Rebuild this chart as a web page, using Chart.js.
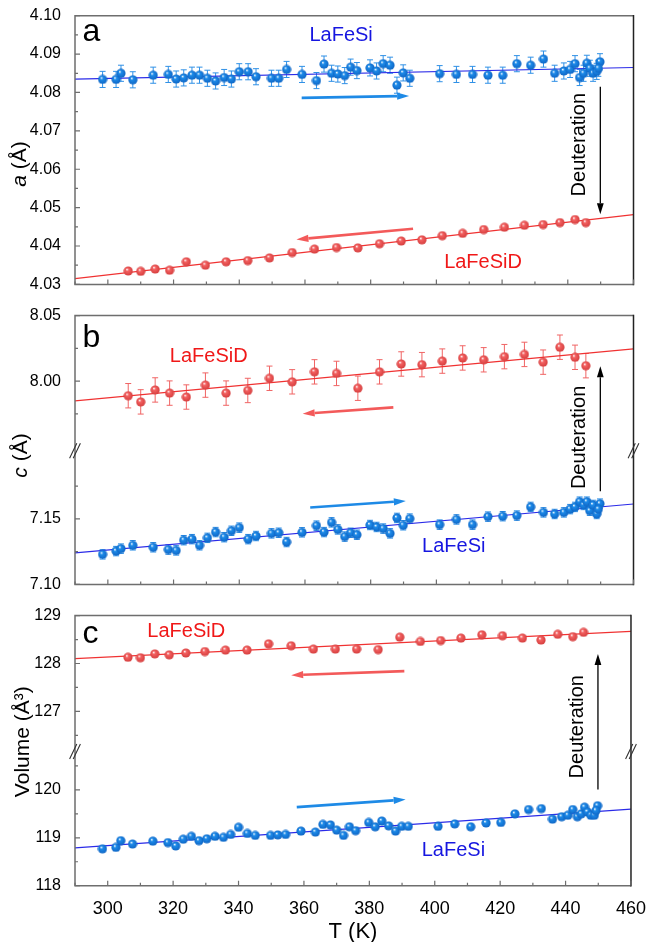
<!DOCTYPE html>
<html>
<head>
<meta charset="utf-8">
<script src="https://cdn.jsdelivr.net/npm/chart.js@4.4.0/dist/chart.umd.min.js"></script>
<style>
  html, body { margin: 0; padding: 0; background: #fff; }
  #wrap { position: relative; width: 651px; height: 942px; }
  .panel { position: absolute; left: 0; width: 651px; }
</style>
</head>
<body>
<div id="wrap">
  <div class="panel" style="top:0;height:300px"><canvas id="chartA"></canvas></div>
  <div class="panel" style="top:300px;height:300px"><canvas id="chartB"></canvas></div>
  <div class="panel" style="top:600px;height:342px"><canvas id="chartC"></canvas></div>
</div>
<script>
// ---- data ----
const blueT = [298.4, 302.5, 304.0, 307.6, 313.8, 318.4, 320.8, 323.1, 325.6, 327.9, 330.3, 332.8, 335.4, 337.6, 340.0,
  342.7, 345.1, 349.8, 352.0, 354.4, 359.1, 363.5, 365.8, 368.1, 370.0, 372.1, 373.9, 375.8, 379.8, 381.8, 383.8, 385.9,
  388.0, 389.9, 391.9, 401.0, 406.1, 411.0, 415.7, 420.2, 424.5, 428.7, 432.6, 436.0, 438.8, 440.7, 442.2, 443.6, 444.8,
  445.8, 446.7, 447.7, 448.8, 449.8, 449.3];
const blueA = [4.0834, 4.0834, 4.0850, 4.0833, 4.0845, 4.0847, 4.0835, 4.0838, 4.0845, 4.0845, 4.0837, 4.0830, 4.0839,
  4.0835, 4.0854, 4.0854, 4.0841, 4.0837, 4.0837, 4.0860, 4.0847, 4.0831, 4.0874, 4.0850, 4.0848, 4.0844, 4.0866, 4.0857,
  4.0864, 4.0856, 4.0875, 4.0871, 4.0819, 4.0851, 4.0837, 4.0849, 4.0847, 4.0847, 4.0845, 4.0845, 4.0875, 4.0871, 4.0887,
  4.0850, 4.0856, 4.0860, 4.0875, 4.0839, 4.0850, 4.0876, 4.0863, 4.0850, 4.0855, 4.0880, 4.0863];
const blueC = [7.1229, 7.1254, 7.1273, 7.1298, 7.1283, 7.1266, 7.1259, 7.1337, 7.1345, 7.1298, 7.1355, 7.1399, 7.1360,
  7.1409, 7.1433, 7.1345, 7.1369, 7.1389, 7.1394, 7.1323, 7.1397, 7.1448, 7.1399, 7.1473, 7.1419, 7.1365, 7.1394, 7.1379,
  7.1453, 7.1438, 7.1426, 7.1389, 7.1507, 7.1451, 7.1502, 7.1456, 7.1495, 7.1456, 7.1517, 7.1520, 7.1525, 7.1591, 7.1549,
  7.1537, 7.1549, 7.1574, 7.1591, 7.1631, 7.1606, 7.1631, 7.1562, 7.1606, 7.1537, 7.1616, 7.1574];
const blueV = [118.77, 118.80, 118.94, 118.87, 118.93, 118.90, 118.83, 118.97, 119.03, 118.94, 118.98, 119.03, 119.01,
  119.07, 119.22, 119.09, 119.05, 119.05, 119.06, 119.07, 119.14, 119.12, 119.28, 119.27, 119.16, 119.05, 119.23, 119.15,
  119.32, 119.23, 119.35, 119.25, 119.14, 119.24, 119.24, 119.24, 119.29, 119.23, 119.31, 119.32, 119.50, 119.59, 119.61,
  119.39, 119.44, 119.47, 119.59, 119.44, 119.50, 119.64, 119.54, 119.47, 119.47, 119.67, 119.57];

const redT = [306.2, 310.0, 314.4, 318.8, 323.9, 329.7, 336.0, 342.6, 349.2, 356.1, 362.9, 369.6, 376.1, 382.7, 389.3,
  395.6, 401.8, 408.0, 414.4, 420.7, 426.8, 432.5, 437.6, 442.2, 445.5];
const redA = [4.0335, 4.0334, 4.0340, 4.0337, 4.0359, 4.0350, 4.0359, 4.0362, 4.0369, 4.0383, 4.0392, 4.0396, 4.0395,
  4.0406, 4.0413, 4.0416, 4.0427, 4.0433, 4.0443, 4.0449, 4.0454, 4.0456, 4.0461, 4.0469, 4.0461];
const redC = [7.9889, 7.9842, 7.9933, 7.9909, 7.9879, 7.9970, 7.9909, 7.9929, 8.0022, 7.9995, 8.0071, 8.0059, 7.9946,
  8.0071, 8.0131, 8.0126, 8.0153, 8.0177, 8.0163, 8.0187, 8.0204, 8.0145, 8.0259, 8.0182, 8.0118];
const redV = [128.13, 128.12, 128.20, 128.18, 128.22, 128.25, 128.28, 128.28, 128.41, 128.37, 128.30, 128.30, 128.30,
  128.29, 128.55, 128.46, 128.48, 128.53, 128.60, 128.58, 128.53, 128.49, 128.61, 128.56, 128.65];

// error bar half-widths (roughly constant in each series)
const errBlueA = 0.0021;
const errBlueC = 0.0036;
const errRedC = 0.0093;

// linear fits, ends at T = 290 and 460
const fitT = [290, 460];
const fitBlueA = [4.0835, 4.0865];
const fitRedA = [4.0315, 4.0482];
const fitBlueC = [7.1241, 7.1613];
const fitRedC = [7.9850, 8.0246];
const fitBlueV = [118.79, 119.60];
const fitRedV = [128.10, 128.67];

// ticks
const xMajor = [300, 320, 340, 360, 380, 400, 420, 440, 460];
const xMinor = [290, 310, 330, 350, 370, 390, 410, 430, 450];
const aMajor = [4.03, 4.04, 4.05, 4.06, 4.07, 4.08, 4.09, 4.10];
const aMinor = [4.035, 4.045, 4.055, 4.065, 4.075, 4.085, 4.095];
const cTopMajor = [8.00, 8.05];
const cTopMinor = [7.975, 8.025];
const cBotMajor = [7.10, 7.15];
const cBotMinor = [7.125, 7.175];
const vTopMajor = [127, 128, 129];
const vTopMinor = [126.5, 127.5, 128.5];
const vBotMajor = [118, 119, 120];
const vBotMinor = [118.5, 119.5, 120.5];

// ---- styling ----
const FONT = '"Liberation Sans", Arial, Helvetica, sans-serif';
const AXIS_GRAY = '#6e6e6e';
const LINE_BLUE = '#2b2be8';
const LINE_RED = '#f03232';
const ERR_BLUE = '#2f90e6';
const ERR_RED = '#f06464';
const ARROW_BLUE = '#1e8ae6';
const ARROW_RED = '#f35a5a';
const TEXT_BLUE = '#1616e0';
const TEXT_RED = '#f01818';
const AXIS_W = 75;
const PAD_RIGHT = 17.5;

function makeBall(base, dark) {
  const c = document.createElement('canvas');
  c.width = 10; c.height = 10;
  const g = c.getContext('2d');
  const grad = g.createRadialGradient(3.7, 3.3, 0.2, 5, 5, 5);
  grad.addColorStop(0, '#ffffff');
  grad.addColorStop(0.28, base);
  grad.addColorStop(1, dark);
  g.fillStyle = grad;
  g.beginPath();
  g.arc(5, 5, 4.6, 0, Math.PI * 2);
  g.fill();
  return c;
}
const ballBlue = makeBall('#1d8be9', '#0d62c2');
const ballRed = makeBall('#f46262', '#d23a3a');

function pts(xs, ys) {
  return xs.map((x, i) => ({ x: x, y: ys[i] }));
}

function pointSet(xs, ys, ball, axis, err, errColor) {
  return {
    data: pts(xs, ys), yAxisID: axis, showLine: false, order: 0,
    pointStyle: ball, pointRadius: 5, pointHoverRadius: 5,
    err: err, errColor: errColor
  };
}

function fitSet(ys, color, axis) {
  return {
    data: pts(fitT, ys), yAxisID: axis, showLine: true, order: 1,
    borderColor: color, borderWidth: 1.2, pointRadius: 0, fill: false
  };
}

function yScale(min, max, majors, digits, extra) {
  return Object.assign({
    type: 'linear', position: 'left', min: min, max: max,
    grid: { display: false }, border: { display: false },
    afterBuildTicks: s => { s.ticks = majors.map(v => ({ value: v })); },
    afterFit: s => { s.width = AXIS_W; },
    ticks: {
      autoSkip: false, padding: 6, color: '#000',
      font: { family: FONT, size: 16 },
      callback: v => v.toFixed(digits)
    }
  }, extra || {});
}

function xScale(showLabels, height) {
  return {
    type: 'linear', min: 290, max: 460,
    grid: { display: false }, border: { display: false },
    afterBuildTicks: s => { s.ticks = xMajor.map(v => ({ value: v })); },
    afterFit: s => { s.height = height; },
    ticks: {
      display: showLabels, autoSkip: false, maxRotation: 0, padding: 5, color: '#000',
      font: { family: FONT, size: 18 }
    }
  };
}

function baseOptions(padTop, scales) {
  return {
    responsive: true,
    maintainAspectRatio: false,
    animation: false,
    layout: { padding: { top: padTop, right: PAD_RIGHT, left: 0, bottom: 0 }, autoPadding: false },
    plugins: { legend: { display: false }, tooltip: { enabled: false } },
    scales: scales
  };
}

// error bars, drawn under the balls
const errorBars = {
  id: 'errorBars',
  beforeDatasetsDraw(chart) {
    const ctx = chart.ctx;
    chart.data.datasets.forEach(ds => {
      if (!ds.err) return;
      const xs = chart.scales.x;
      const ys = chart.scales[ds.yAxisID];
      ctx.save();
      ctx.strokeStyle = ds.errColor;
      ctx.lineWidth = 1;
      ds.data.forEach(p => {
        const px = xs.getPixelForValue(p.x);
        const y1 = ys.getPixelForValue(p.y - ds.err);
        const y2 = ys.getPixelForValue(p.y + ds.err);
        ctx.beginPath();
        ctx.moveTo(px, y1); ctx.lineTo(px, y2);
        ctx.moveTo(px - 3, y1); ctx.lineTo(px + 3, y1);
        ctx.moveTo(px - 3, y2); ctx.lineTo(px + 3, y2);
        ctx.stroke();
      });
      ctx.restore();
    });
  }
};

function drawArrow(ctx, x0, y0, x1, y1, color, width, headLen, headHalf) {
  const ang = Math.atan2(y1 - y0, x1 - x0);
  const bx = x1 - headLen * Math.cos(ang);
  const by = y1 - headLen * Math.sin(ang);
  ctx.save();
  ctx.strokeStyle = color;
  ctx.fillStyle = color;
  ctx.lineWidth = width;
  ctx.beginPath();
  ctx.moveTo(x0, y0);
  ctx.lineTo(bx, by);
  ctx.stroke();
  ctx.beginPath();
  ctx.moveTo(x1, y1);
  ctx.lineTo(bx + headHalf * Math.sin(ang), by - headHalf * Math.cos(ang));
  ctx.lineTo(bx - headHalf * Math.sin(ang), by + headHalf * Math.cos(ang));
  ctx.closePath();
  ctx.fill();
  ctx.restore();
}

// frame, inward ticks, axis break marks, labels and arrows
function decor(cfg) {
  return {
    id: 'decor',
    afterDatasetsDraw(chart) {
      const ctx = chart.ctx;
      const { left, right, top, bottom } = chart.chartArea;
      const xs = chart.scales.x;
      ctx.save();

      // frame
      ctx.lineWidth = 1.5;
      ctx.strokeStyle = AXIS_GRAY;
      ctx.beginPath();
      ctx.moveTo(right, top); ctx.lineTo(left, top); ctx.lineTo(left, bottom); ctx.lineTo(right, bottom);
      ctx.stroke();
      ctx.strokeStyle = '#222';
      ctx.beginPath();
      ctx.moveTo(right, top - 0.75); ctx.lineTo(right, bottom + 0.75);
      ctx.stroke();

      // inward ticks
      ctx.strokeStyle = AXIS_GRAY;
      ctx.lineWidth = 1.2;
      ctx.beginPath();
      xMajor.forEach(v => { const p = xs.getPixelForValue(v); ctx.moveTo(p, bottom); ctx.lineTo(p, bottom - 5); });
      xMinor.forEach(v => { const p = xs.getPixelForValue(v); ctx.moveTo(p, bottom); ctx.lineTo(p, bottom - 3); });
      cfg.yTicks.forEach(t => {
        const ys = chart.scales[t.axis];
        t.major.forEach(v => { const p = ys.getPixelForValue(v); ctx.moveTo(left, p); ctx.lineTo(left + 5, p); });
        t.minor.forEach(v => { const p = ys.getPixelForValue(v); ctx.moveTo(left, p); ctx.lineTo(left + 3, p); });
      });
      ctx.stroke();

      // axis break marks
      if (cfg.breakAxis) {
        const yb = chart.scales[cfg.breakAxis].bottom;
        ctx.strokeStyle = '#333';
        ctx.lineWidth = 1.1;
        ctx.beginPath();
        [left, right].forEach(x => {
          [-1.8, 1.8].forEach(o => {
            ctx.moveTo(x + o - 3.6, yb + 7.5);
            ctx.lineTo(x + o + 3.6, yb - 7.5);
          });
        });
        ctx.stroke();
      }

      // arrows
      cfg.arrows.forEach(a => {
        drawArrow(ctx,
          xs.getPixelForValue(a.t0), chart.scales[a.ax0].getPixelForValue(a.v0),
          xs.getPixelForValue(a.t1), chart.scales[a.ax1].getPixelForValue(a.v1),
          a.color, a.width, a.head, a.half);
      });

      // labels
      cfg.texts.forEach(t => {
        const px = xs.getPixelForValue(t.t);
        const py = chart.scales[t.axis].getPixelForValue(t.v);
        ctx.save();
        ctx.translate(px, py);
        if (t.rot) ctx.rotate(t.rot);
        ctx.fillStyle = t.color;
        ctx.font = t.size + 'px ' + FONT;
        ctx.textAlign = t.align || 'center';
        ctx.textBaseline = t.baseline || 'middle';
        ctx.fillText(t.text, 0, 0);
        ctx.restore();
      });

      // y axis title (rotated, partly italic)
      const yt = cfg.yTitle;
      ctx.save();
      ctx.translate(yt.x, yt.y);
      ctx.rotate(-Math.PI / 2);
      ctx.fillStyle = '#000';
      ctx.textBaseline = 'middle';
      let total = 0;
      yt.parts.forEach(p => {
        ctx.font = (p.italic ? 'italic ' : '') + '21px ' + FONT;
        total += ctx.measureText(p.text).width;
      });
      let cx = -total / 2;
      yt.parts.forEach(p => {
        ctx.font = (p.italic ? 'italic ' : '') + '21px ' + FONT;
        ctx.textAlign = 'left';
        ctx.fillText(p.text, cx, 0);
        cx += ctx.measureText(p.text).width;
      });
      ctx.restore();

      // x axis title
      if (cfg.xTitle) {
        ctx.fillStyle = '#000';
        ctx.font = '22px ' + FONT;
        ctx.textAlign = 'center';
        ctx.textBaseline = 'middle';
        ctx.fillText(cfg.xTitle.text, (left + right) / 2, cfg.xTitle.y);
      }
      ctx.restore();
    }
  };
}

// ---- panel a ----
new Chart(document.getElementById('chartA'), {
  type: 'scatter',
  data: {
    datasets: [
      pointSet(blueT, blueA, ballBlue, 'y', errBlueA, ERR_BLUE),
      pointSet(redT, redA, ballRed, 'y', 0, ERR_RED),
      fitSet(fitBlueA, LINE_BLUE, 'y'),
      fitSet(fitRedA, LINE_RED, 'y')
    ]
  },
  options: baseOptions(15.7, {
    x: xScale(false, 6.7),
    y: yScale(4.03, 4.10, aMajor, 2)
  }),
  plugins: [errorBars, decor({
    yTicks: [{ axis: 'y', major: aMajor, minor: aMinor }],
    yTitle: { x: 20, y: 164, parts: [{ text: 'a', italic: true }, { text: ' (Å)' }] },
    arrows: [
      { t0: 359.0, v0: 4.0786, ax0: 'y', t1: 391.7, v1: 4.0791, ax1: 'y', color: ARROW_BLUE, width: 2.6, head: 12, half: 3.6 },
      { t0: 392.9, v0: 4.0445, ax0: 'y', t1: 357.4, v1: 4.0417, ax1: 'y', color: ARROW_RED, width: 2.6, head: 12, half: 3.6 },
      { t0: 449.9, v0: 4.0815, ax0: 'y', t1: 449.9, v1: 4.0483, ax1: 'y', color: '#000', width: 1.3, head: 11, half: 3.4 }
    ],
    texts: [
      { text: 'a', t: 292.3, v: 4.0933, axis: 'y', color: '#000', size: 32, align: 'left', baseline: 'alphabetic' },
      { text: 'LaFeSi', t: 371.0, v: 4.0949, axis: 'y', color: TEXT_BLUE, size: 20 },
      { text: 'LaFeSiD', t: 414.2, v: 4.0356, axis: 'y', color: TEXT_RED, size: 20 },
      { text: 'Deuteration', t: 443.7, v: 4.0664, axis: 'y', color: '#000', size: 20, rot: -Math.PI / 2 }
    ]
  })]
});

// ---- panel b (broken axis) ----
new Chart(document.getElementById('chartB'), {
  type: 'scatter',
  data: {
    datasets: [
      pointSet(redT, redC, ballRed, 'yTop', errRedC, ERR_RED),
      pointSet(blueT, blueC, ballBlue, 'yBot', errBlueC, ERR_BLUE),
      fitSet(fitRedC, LINE_RED, 'yTop'),
      fitSet(fitBlueC, LINE_BLUE, 'yBot')
    ]
  },
  options: baseOptions(12.7, {
    x: xScale(false, 10.7),
    yBot: yScale(7.10, 7.202, cBotMajor, 2, { stack: 'c', stackWeight: 0.102, weight: 0 }),
    yTop: yScale(7.947, 8.05, cTopMajor, 2, { stack: 'c', stackWeight: 0.103, weight: 1 })
  }),
  plugins: [errorBars, decor({
    yTicks: [
      { axis: 'yTop', major: cTopMajor, minor: cTopMinor },
      { axis: 'yBot', major: cBotMajor, minor: cBotMinor }
    ],
    breakAxis: 'yTop',
    yTitle: { x: 21, y: 155.5, parts: [{ text: 'c', italic: true }, { text: ' (Å)' }] },
    arrows: [
      { t0: 386.9, v0: 7.9800, ax0: 'yTop', t1: 359.3, v1: 7.9751, ax1: 'yTop', color: ARROW_RED, width: 2.6, head: 12, half: 3.6 },
      { t0: 361.6, v0: 7.1587, ax0: 'yBot', t1: 390.7, v1: 7.1636, ax1: 'yBot', color: ARROW_BLUE, width: 2.6, head: 12, half: 3.6 },
      { t0: 449.9, v0: 7.1710, ax0: 'yBot', t1: 449.9, v1: 8.0113, ax1: 'yTop', color: '#000', width: 1.3, head: 11, half: 3.4 }
    ],
    texts: [
      { text: 'b', t: 292.3, v: 8.0261, axis: 'yTop', color: '#000', size: 32, align: 'left', baseline: 'alphabetic' },
      { text: 'LaFeSiD', t: 330.7, v: 8.0187, axis: 'yTop', color: TEXT_RED, size: 20 },
      { text: 'LaFeSi', t: 405.3, v: 7.1286, axis: 'yBot', color: TEXT_BLUE, size: 20 },
      { text: 'Deuteration', t: 443.7, v: 7.9571, axis: 'yTop', color: '#000', size: 20, rot: -Math.PI / 2 }
    ]
  })]
});

// ---- panel c (broken axis) ----
new Chart(document.getElementById('chartC'), {
  type: 'scatter',
  data: {
    datasets: [
      pointSet(redT, redV, ballRed, 'yTop', 0, ERR_RED),
      pointSet(blueT, blueV, ballBlue, 'yBot', 0, ERR_BLUE),
      fitSet(fitRedV, LINE_RED, 'yTop'),
      fitSet(fitBlueV, LINE_BLUE, 'yBot')
    ]
  },
  options: baseOptions(9, {
    x: xScale(true, 56.3),
    yBot: yScale(118, 120.8, vBotMajor, 0, { stack: 'v', stackWeight: 2.8, weight: 0 }),
    yTop: yScale(126.16, 129, vTopMajor, 0, { stack: 'v', stackWeight: 2.84, weight: 1 })
  }),
  plugins: [errorBars, decor({
    yTicks: [
      { axis: 'yTop', major: vTopMajor, minor: vTopMinor },
      { axis: 'yBot', major: vBotMajor, minor: vBotMinor }
    ],
    breakAxis: 'yTop',
    yTitle: { x: 23, y: 141.7, parts: [{ text: 'Volume (Å³)' }] },
    xTitle: { text: 'T (K)', y: 331.7 },
    arrows: [
      { t0: 390.7, v0: 127.84, ax0: 'yTop', t1: 356.1, v1: 127.757, ax1: 'yTop', color: ARROW_RED, width: 2.6, head: 12, half: 3.6 },
      { t0: 357.8, v0: 119.64, ax0: 'yBot', t1: 391.1, v1: 119.80, ax1: 'yBot', color: ARROW_BLUE, width: 2.6, head: 12, half: 3.6 },
      { t0: 449.9, v0: 120.01, ax0: 'yBot', t1: 449.9, v1: 128.20, ax1: 'yTop', color: '#000', width: 1.3, head: 11, half: 3.4 }
    ],
    texts: [
      { text: 'c', t: 292.3, v: 128.418, axis: 'yTop', color: '#000', size: 32, align: 'left', baseline: 'alphabetic' },
      { text: 'LaFeSiD', t: 324.0, v: 128.675, axis: 'yTop', color: TEXT_RED, size: 20 },
      { text: 'LaFeSi', t: 405.7, v: 118.74, axis: 'yBot', color: TEXT_BLUE, size: 20 },
      { text: 'Deuteration', t: 443.7, v: 126.68, axis: 'yTop', color: '#000', size: 20, rot: -Math.PI / 2 }
    ]
  })]
});
</script>
</body>
</html>
